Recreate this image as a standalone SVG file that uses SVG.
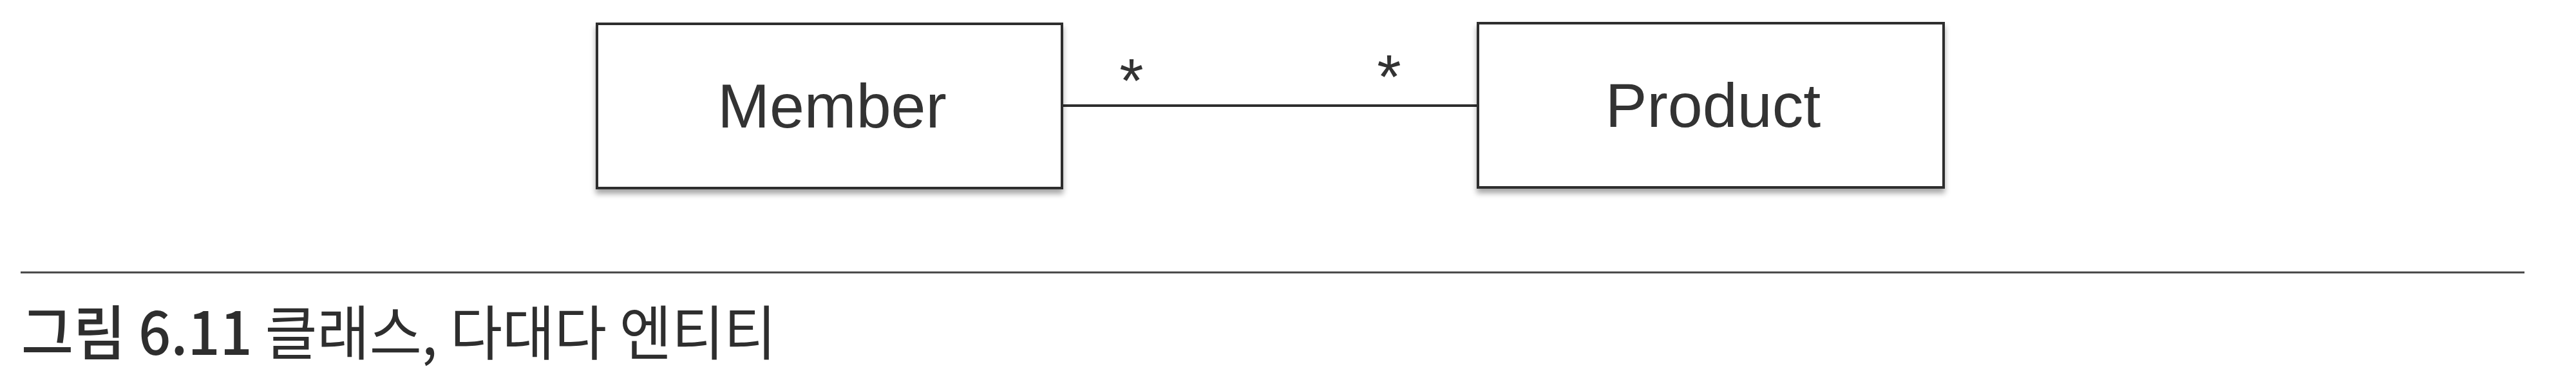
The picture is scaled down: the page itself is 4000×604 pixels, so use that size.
<svg xmlns="http://www.w3.org/2000/svg" width="4000" height="604" viewBox="0 0 4000 604">
  <style>
    .box { fill: #ffffff; stroke: #2e2e2e; stroke-width: 4; }
    .label { font-family: "Liberation Sans", Arial, sans-serif; font-size: 97px; fill: #333333; text-anchor: middle; }
    .mult { font-family: "Liberation Sans", Arial, sans-serif; font-size: 96px; fill: #333333; text-anchor: middle; }
    .conn { stroke: #2e2e2e; stroke-width: 4; fill: none; }
    .rule { stroke: #444444; stroke-width: 3; }
    .caption { font-family: "Noto Sans CJK KR", "Noto Sans", sans-serif; font-size: 92px; font-weight: 400; fill: #2e2e2e; }
    .caption .num { font-weight: 500; }
  </style>
  <defs>
    <filter id="shadow" x="-5%" y="-10%" width="110%" height="130%">
      <feDropShadow dx="0" dy="7" stdDeviation="4" flood-color="#000000" flood-opacity="0.35"/>
    </filter>
  </defs>
  <rect width="4000" height="604" fill="#ffffff"/>

  <g id="connectors">
    <line class="conn" x1="1650" y1="164" x2="2295" y2="164"/>
    <text class="mult" x="1757" y="158">*</text>
    <text class="mult" x="2157" y="152">*</text>
  </g>

  <g id="member">
    <rect class="box" x="927" y="37" width="722" height="255" filter="url(#shadow)"/>
    <text class="label" x="1292" y="198">Member</text>
  </g>

  <g id="product">
    <rect class="box" x="2295" y="36" width="723" height="255" filter="url(#shadow)"/>
    <text class="label" x="2660" y="197">Product</text>
  </g>

  <g id="caption">
    <line class="rule" x1="32" y1="423" x2="3920" y2="423"/>
    <text class="caption" x="33" y="551" textLength="1172" lengthAdjust="spacingAndGlyphs"><tspan class="num">그림 6.11</tspan> 클래스, 다대다 엔티티</text>
  </g>
</svg>
